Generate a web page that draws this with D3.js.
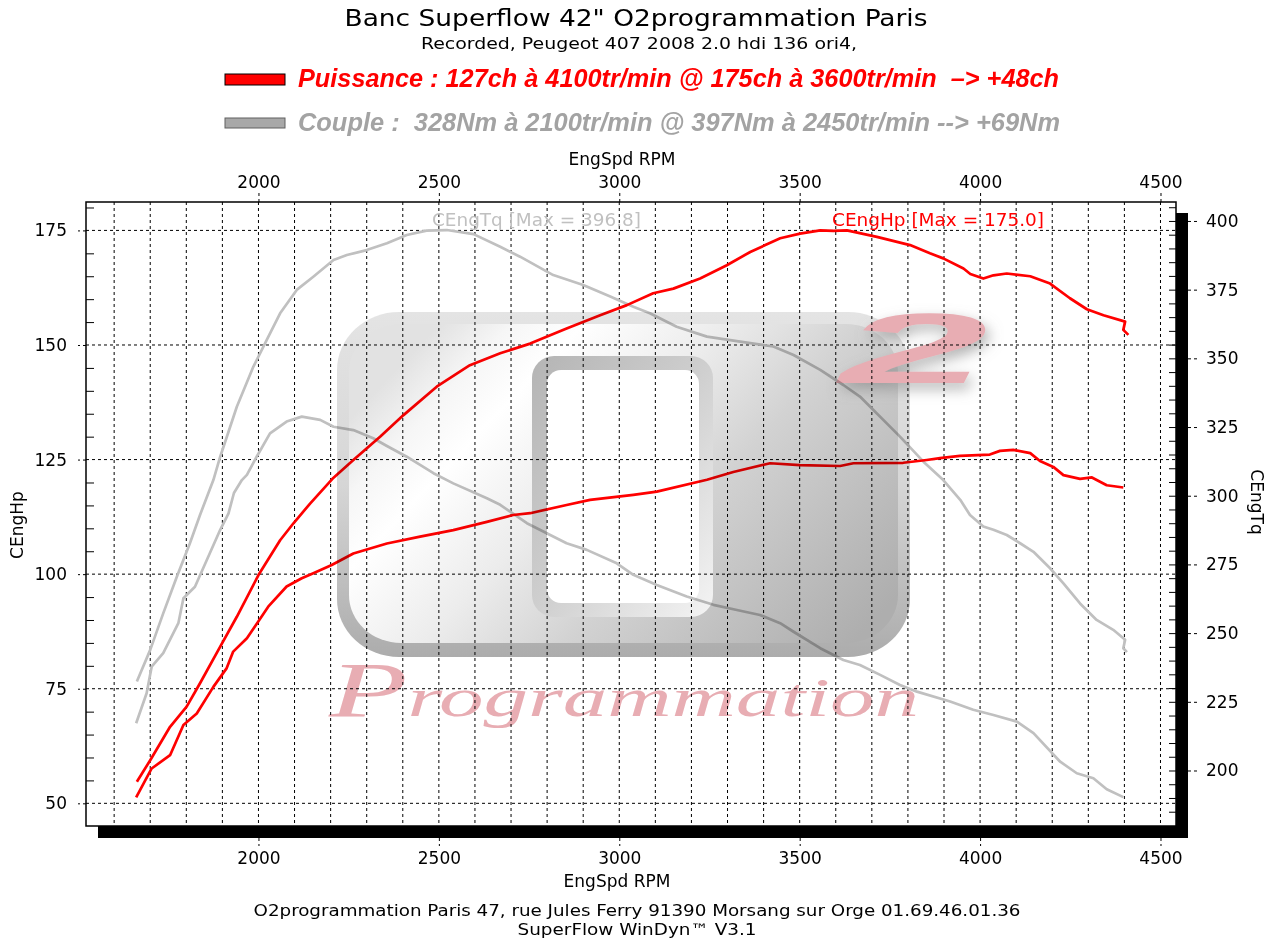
<!DOCTYPE html>
<html><head><meta charset="utf-8">
<script src="https://cdn.jsdelivr.net/npm/d3@7"></script>
<style>
html,body{margin:0;padding:0;background:#fff;}
svg{display:block;}
text{white-space:pre;}
</style></head>
<body>
<script>
// ---------------- DATA ----------------
const rpmTicks = [2000, 2500, 3000, 3500, 4000, 4500];
const hpTicks = [50, 75, 100, 125, 150, 175];
const nmTicks = [200, 225, 250, 275, 300, 325, 350, 375, 400];

const hpTunedRpm = [1663,1700,1755,1801,1838,1894,1940,2000,2060,2097,2143,2205,2263,2337,2402,2494,2586,2670,2753,2854,2947,3021,3094,3150,3224,3298,3363,3446,3501,3557,3593,3631,3714,3806,3861,3898,3954,3973,4009,4037,4074,4139,4194,4249,4296,4342,4402,4397,4411];
const hpTuned    = [54.7,59.4,66.7,71.1,76.2,84.2,90.7,99.8,107.4,111.1,115.4,120.8,124.9,130.0,134.7,140.9,145.6,148.2,150.3,153.6,156.5,158.7,161.3,162.3,164.5,167.4,170.3,173.3,174.3,175.0,174.9,175.0,173.6,171.8,170.0,168.9,166.7,165.5,164.5,165.2,165.6,165.0,163.4,160.2,157.8,156.5,155.1,153.3,152.2];

const hpStockRpm = [1661,1704,1755,1792,1829,1875,1912,1930,1968,2027,2078,2120,2152,2203,2263,2356,2448,2540,2633,2706,2753,2854,2919,3039,3104,3243,3316,3418,3501,3612,3649,3787,3852,3889,3944,4027,4055,4092,4139,4166,4203,4231,4277,4310,4351,4397];
const hpStock    = [51.3,57.6,60.5,67.1,69.6,75.4,79.5,83.1,86.0,92.9,97.3,99.1,100.2,102.0,104.5,106.7,108.2,109.6,111.4,112.9,113.3,115.1,116.2,117.3,118.0,120.6,122.3,124.2,123.8,123.6,124.2,124.3,124.9,125.3,125.8,126.1,126.9,127.1,126.4,124.7,123.4,121.6,120.8,121.1,119.4,118.9];

const tqTunedRpm = [1663,1700,1736,1774,1810,1838,1875,1894,1940,1986,2023,2060,2106,2152,2208,2245,2300,2356,2411,2466,2522,2596,2670,2725,2817,2900,2975,3039,3085,3159,3243,3335,3427,3483,3557,3621,3667,3778,3843,3898,3945,3972,4009,4037,4074,4111,4148,4194,4231,4277,4323,4369,4402,4397,4407];
const tqTuned    = [232.4,243.9,257.2,270.6,282.7,293.0,305.7,314.2,332.4,347.0,356.7,366.4,374.9,379.7,385.8,387.6,389.4,391.9,394.9,396.5,396.7,395.2,390.6,387.0,380.3,376.7,372.5,368.8,366.4,361.5,357.9,356.1,354.3,351.2,345.8,340.3,336.1,321.5,312.4,305.7,298.5,293.0,288.8,287.6,285.7,282.7,279.6,273.6,268.1,260.8,254.8,251.2,247.6,244.5,243.1];

const tqStockRpm = [1661,1690,1704,1736,1778,1792,1824,1894,1917,1932,1954,1968,1995,2032,2078,2120,2171,2208,2263,2318,2356,2411,2485,2540,2633,2670,2744,2854,2910,2993,3039,3104,3187,3261,3326,3390,3446,3483,3557,3621,3667,3723,3778,3825,3917,3981,4037,4102,4148,4222,4268,4314,4351,4397];
const tqStock    = [217.2,228.1,237.8,242.7,253.6,262.7,266.9,287.6,293.6,301.0,305.7,307.6,314.2,322.7,327.0,328.8,327.6,325.1,323.9,320.9,318.1,314.2,308.2,304.5,299.1,296.7,290.0,282.7,280.3,275.4,271.2,267.5,263.3,260.3,258.4,256.6,253.6,250.5,244.5,240.2,238.4,234.8,231.1,228.7,225.1,222.1,220.2,217.8,213.6,203.2,199.0,197.2,193.2,190.3];

const titleText = 'Banc Superflow 42" O2programmation Paris';
const subtitleText = 'Recorded, Peugeot 407 2008 2.0 hdi 136 ori4,';
const legendHp = 'Puissance : 127ch à 4100tr/min @ 175ch à 3600tr/min  –> +48ch';
const legendTq = 'Couple :  328Nm à 2100tr/min @ 397Nm à 2450tr/min --> +69Nm';
const footer1 = 'O2programmation Paris 47, rue Jules Ferry 91390 Morsang sur Orge 01.69.46.01.36';
const footer2 = 'SuperFlow WinDyn™ V3.1';

// ---------------- LAYOUT ----------------
const W = 1272, H = 939;
const L = 86, R = 1176, T = 202, B = 826, SH = 12;
const FONT = '"DejaVu Sans", Verdana, sans-serif';
const FONTC = '"DejaVu Sans Condensed", "DejaVu Sans", Tahoma, sans-serif';
const FONTN = '"Liberation Sans Narrow", "Liberation Sans", Arial, sans-serif';
const fmt = d3.format('d');

const svg = d3.select('body').append('svg').attr('width', W).attr('height', H);
const defs = svg.append('defs');

const x = d3.scaleLinear().domain([1522, 4543]).range([L, R]);
const yHp = d3.scaleLinear().domain([45.05, 181.2]).range([B, T]);
const yTq = d3.scaleLinear().domain([179.8, 406.9]).range([B, T]);

// ---------------- TITLES ----------------
svg.append('text').attr('x', 636).attr('y', 26).attr('text-anchor', 'middle')
  .attr('font-family', FONTC).attr('font-size', 23).attr('textLength', 583).attr('lengthAdjust', 'spacingAndGlyphs')
  .text(titleText);
svg.append('text').attr('x', 639).attr('y', 49).attr('text-anchor', 'middle')
  .attr('font-family', FONTC).attr('font-size', 16).attr('textLength', 436).attr('lengthAdjust', 'spacingAndGlyphs')
  .text(subtitleText);

// legend
svg.append('rect').attr('x', 225).attr('y', 74).attr('width', 60).attr('height', 11)
  .attr('fill', '#ff0000').attr('stroke', '#000').attr('stroke-width', 1);
svg.append('rect').attr('x', 225).attr('y', 118).attr('width', 60).attr('height', 10)
  .attr('fill', '#a8a8a8').attr('stroke', '#606060').attr('stroke-width', 1);
svg.append('text').attr('x', 298).attr('y', 87)
  .attr('font-family', FONTN).attr('font-size', 25).attr('font-weight', 'bold').attr('font-style', 'italic')
  .attr('fill', '#ff0000').attr('textLength', 761).attr('lengthAdjust', 'spacingAndGlyphs')
  .text(legendHp);
svg.append('text').attr('x', 298).attr('y', 131)
  .attr('font-family', FONTN).attr('font-size', 25).attr('font-weight', 'bold').attr('font-style', 'italic')
  .attr('fill', '#a3a3a3').attr('textLength', 762).attr('lengthAdjust', 'spacingAndGlyphs')
  .text(legendTq);

// ---------------- GRID ----------------
const grid = svg.append('g');
const minorRpm = d3.range(1600, 4501, 100);
grid.selectAll('line.v').data(minorRpm).join('line')
  .attr('x1', d => x(d)).attr('x2', d => x(d)).attr('y1', T).attr('y2', B)
  .attr('stroke', '#000').attr('stroke-width', 1).attr('stroke-dasharray', '3,3');
grid.selectAll('line.h').data(hpTicks).join('line')
  .attr('x1', L).attr('x2', R).attr('y1', d => yHp(d)).attr('y2', d => yHp(d))
  .attr('stroke', '#000').attr('stroke-width', 1).attr('stroke-dasharray', '3,3');

// ---------------- CURVES ----------------
function zip(a, b) { return a.map((v, i) => [v, b[i]]); }
const lineHp = d3.line().x(d => x(d[0])).y(d => yHp(d[1]));
const lineTq = d3.line().x(d => x(d[0])).y(d => yTq(d[1]));
const curves = svg.append('g').attr('fill', 'none').attr('stroke-width', 2.7).attr('stroke-linejoin', 'round');
curves.append('path').attr('d', lineTq(zip(tqStockRpm, tqStock))).attr('stroke', '#c0c0c0');
curves.append('path').attr('d', lineTq(zip(tqTunedRpm, tqTuned))).attr('stroke', '#c0c0c0');
curves.append('path').attr('d', lineHp(zip(hpStockRpm, hpStock))).attr('stroke', '#ff0000');
curves.append('path').attr('d', lineHp(zip(hpTunedRpm, hpTuned))).attr('stroke', '#ff0000');

// ---------------- WATERMARK (blended over) ----------------
const gMain = defs.append('linearGradient').attr('id', 'gMain').attr('x1', '0').attr('y1', '0.3').attr('x2', '1').attr('y2', '0.85');
[[0,'#e2e2e2'],[0.1,'#f6f6f6'],[0.2,'#ffffff'],[0.4,'#ececec'],[0.6,'#d2d2d2'],[1,'#aeaeae']]
  .forEach(s => gMain.append('stop').attr('offset', s[0]).attr('stop-color', s[1]));
const gRim = defs.append('linearGradient').attr('id', 'gRim').attr('x1', '0').attr('y1', '0').attr('x2', '0').attr('y2', '1');
[[0,'#e4e4e4'],[0.5,'#d6d6d6'],[1,'#acacac']].forEach(s => gRim.append('stop').attr('offset', s[0]).attr('stop-color', s[1]));
const gHole = defs.append('linearGradient').attr('id', 'gHole').attr('x1', '0').attr('y1', '0').attr('x2', '1').attr('y2', '1');
[[0,'#b4b4b4'],[0.5,'#cfcfcf'],[1,'#f4f4f4']].forEach(s => gHole.append('stop').attr('offset', s[0]).attr('stop-color', s[1]));
const shadow = defs.append('filter').attr('id', 'soft').attr('x', '-40%').attr('y', '-40%').attr('width', '180%').attr('height', '180%');
shadow.append('feDropShadow').attr('dx', 4).attr('dy', 6).attr('stdDeviation', 7).attr('flood-color', '#808080').attr('flood-opacity', 0.6);

const wm = svg.append('g').style('mix-blend-mode', 'multiply');
wm.append('rect').attr('x', 337).attr('y', 312).attr('width', 573).attr('height', 345).attr('rx', 62).attr('ry', 58).attr('fill', 'url(#gRim)');
wm.append('rect').attr('x', 349).attr('y', 324).attr('width', 549).attr('height', 319).attr('rx', 52).attr('ry', 48).attr('fill', 'url(#gMain)');
wm.append('rect').attr('x', 532).attr('y', 356).attr('width', 181).attr('height', 261).attr('rx', 22).attr('fill', 'url(#gHole)');
wm.append('rect').attr('x', 547).attr('y', 370).attr('width', 152).attr('height', 233).attr('rx', 14).attr('fill', '#ffffff');
// "2"
wm.append('text').attr('x', 840).attr('y', 383)
  .attr('font-family', '"Liberation Sans", Arial, sans-serif').attr('font-weight', 'bold').attr('font-style', 'italic').attr('font-size', 100)
  .attr('fill', '#e8adb3').attr('filter', 'url(#soft)')
  .attr('textLength', 148).attr('lengthAdjust', 'spacingAndGlyphs').text('2');
// "Programmation"
const prog = wm.append('text').attr('x', 329).attr('y', 716)
  .attr('font-family', '"Liberation Serif", "DejaVu Serif", serif').attr('font-style', 'italic')
  .attr('fill', '#e8adb3').attr('textLength', 590).attr('lengthAdjust', 'spacingAndGlyphs');
prog.append('tspan').attr('font-size', 78).text('P');
prog.append('tspan').attr('font-size', 54).text('rogrammation');

// ---------------- FRAME & SHADOW ----------------
svg.append('rect').attr('x', L + SH).attr('y', B).attr('width', R - L).attr('height', SH).attr('fill', '#000');
svg.append('rect').attr('x', R).attr('y', T + 11).attr('width', SH).attr('height', B - T - 11 + SH).attr('fill', '#000');
svg.append('rect').attr('x', L).attr('y', T).attr('width', R - L).attr('height', B - T)
  .attr('fill', 'none').attr('stroke', '#000').attr('stroke-width', 1.5);

// ---------------- AXES ----------------
function styleAxis(g, dashed) {
  g.select('.domain').remove();
  g.selectAll('.tick line').attr('stroke', '#000').attr('stroke-width', 1);
  if (dashed) g.selectAll('.tick line').attr('stroke-dasharray', '3,3');
  g.selectAll('.tick text').attr('font-family', FONT).attr('font-size', 17).attr('fill', '#000');
}
// top
svg.append('g').attr('transform', `translate(0,${T})`)
  .call(d3.axisTop(x).tickValues(rpmTicks).tickFormat(fmt).tickSize(9).tickPadding(5))
  .call(g => styleAxis(g, true));
// bottom
svg.append('g').attr('transform', `translate(0,${B + SH})`)
  .call(d3.axisBottom(x).tickValues(rpmTicks).tickFormat(fmt).tickSize(8).tickPadding(6))
  .call(g => styleAxis(g, true));
// left major
svg.append('g').attr('transform', `translate(${L},0)`)
  .call(d3.axisLeft(yHp).tickValues(hpTicks).tickFormat(fmt).tickSize(8).tickPadding(11))
  .call(g => styleAxis(g, true));
// left minor (inside)
svg.append('g').attr('transform', `translate(${L},0)`)
  .call(d3.axisRight(yHp).tickValues(d3.range(50, 181, 5).filter(v => v % 25 !== 0)).tickSize(8).tickFormat(''))
  .call(g => styleAxis(g, false));
// right major
svg.append('g').attr('transform', `translate(${R + SH},0)`)
  .call(d3.axisRight(yTq).tickValues(nmTicks).tickFormat(fmt).tickSize(9).tickPadding(9))
  .call(g => styleAxis(g, true));
// right minor (inside)
svg.append('g').attr('transform', `translate(${R},0)`)
  .call(d3.axisLeft(yTq).tickValues(d3.range(185, 406, 5)).tickSize(7).tickFormat(''))
  .call(g => styleAxis(g, false));

// axis titles
svg.append('text').attr('x', 622).attr('y', 165).attr('text-anchor', 'middle')
  .attr('font-family', FONT).attr('font-size', 17).text('EngSpd RPM');
svg.append('text').attr('x', 617).attr('y', 887).attr('text-anchor', 'middle')
  .attr('font-family', FONT).attr('font-size', 17).text('EngSpd RPM');
svg.append('text').attr('transform', 'translate(23,525) rotate(-90)').attr('text-anchor', 'middle')
  .attr('font-family', FONT).attr('font-size', 17).text('CEngHp');
svg.append('text').attr('transform', 'translate(1251,502) rotate(90)').attr('text-anchor', 'middle')
  .attr('font-family', FONT).attr('font-size', 17).text('CEngTq');

// curve labels
svg.append('text').attr('x', 432).attr('y', 226).attr('font-family', FONT).attr('font-size', 17)
  .attr('fill', '#c0c0c0').attr('textLength', 209).attr('lengthAdjust', 'spacingAndGlyphs').text('CEngTq [Max = 396.8]');
svg.append('text').attr('x', 832).attr('y', 226).attr('font-family', FONT).attr('font-size', 17)
  .attr('fill', '#ff0000').attr('textLength', 212).attr('lengthAdjust', 'spacingAndGlyphs').text('CEngHp [Max = 175.0]');

// footer
svg.append('text').attr('x', 637).attr('y', 916).attr('text-anchor', 'middle')
  .attr('font-family', FONTC).attr('font-size', 16).attr('textLength', 767).attr('lengthAdjust', 'spacingAndGlyphs').text(footer1);
svg.append('text').attr('x', 637).attr('y', 935).attr('text-anchor', 'middle')
  .attr('font-family', FONTC).attr('font-size', 16).attr('textLength', 239).attr('lengthAdjust', 'spacingAndGlyphs').text(footer2);
</script>
</body></html>
